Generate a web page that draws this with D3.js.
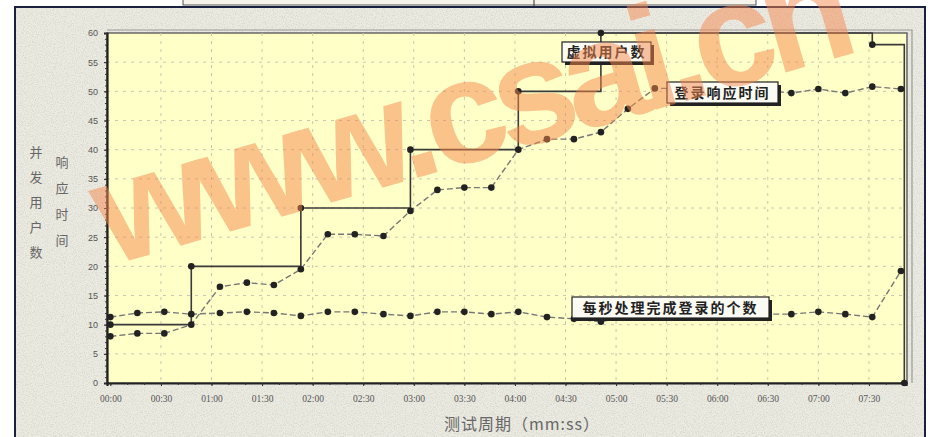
<!DOCTYPE html>
<html><head><meta charset="utf-8">
<script src="https://cdn.jsdelivr.net/npm/d3@7/dist/d3.min.js"></script>
<style>
html,body{margin:0;padding:0;background:#fff;}
svg{display:block;}
</style></head>
<body><svg id="chart" width="933" height="437"></svg>
<script>
// ---- data ----
const sampleTimes = ["00:00","00:16","00:32","00:48","01:05","01:21","01:37","01:53","02:09","02:25",
  "02:42","02:58","03:14","03:30","03:46","04:02","04:19","04:35","04:51","05:07",
  "05:23","05:39","05:55","06:12","06:28","06:44","07:00","07:16","07:32","07:49"];
const responseTime = [8, 8.5, 8.5, 10, 16.5, 17.2, 16.8, 19.5, 25.5, 25.5,
  25.2, 29.5, 33.1, 33.5, 33.5, 40, 41.8, 41.8, 43, 47,
  50.5, 50.5, 50.2, 50, 50.2, 49.7, 50.4, 49.7, 50.8, 50.4];
const perSecond = [11.3, 12, 12.2, 11.8, 12, 12.2, 12, 11.5, 12.2, 12.2,
  11.8, 11.5, 12.2, 12.2, 11.8, 12.2, 11.3, 11, 10.5, 11.5,
  11.8, 12, 11.8, 12, 11.8, 11.8, 12.2, 11.8, 11.3, 19.2];
const userTimes = ["00:00","00:48","01:53","02:58","04:02","04:51","07:32","07:51"];
const userCount = [10, 20, 30, 40, 50, 60, 58, 0];
const xTickLabels = ["00:00","00:30","01:00","01:30","02:00","02:30","03:00","03:30",
  "04:00","04:30","05:00","05:30","06:00","06:30","07:00","07:30"];
const yTicks = [0,5,10,15,20,25,30,35,40,45,50,55,60];
const yTitleUsers = "并发用户数";
const yTitleResp = "响应时间";
const xTitle = "测试周期（mm:ss）";
const labelUsers = "虚拟用户数";
const labelResp = "登录响应时间";
const labelPerSec = "每秒处理完成登录的个数";
const watermark = "www.csai.cn";

const toSec = s => { const [m, ss] = s.split(":").map(Number); return m*60+ss; };

// ---- layout ----
const svg = d3.select("#chart");
const L = 107, R = 906, T = 33, B = 383;
const x = d3.scaleLinear().domain([-2, 472]).range([L, R]);
const y = d3.scaleLinear().domain([0, 60]).range([B, T]);

const defs = svg.append("defs");
const f = defs.append("filter").attr("id","noise").attr("x",0).attr("y",0).attr("width","100%").attr("height","100%");
f.append("feTurbulence").attr("type","fractalNoise").attr("baseFrequency",0.9).attr("numOctaves",2).attr("seed",3).attr("result","n");
f.append("feColorMatrix").attr("type","matrix")
  .attr("values","0 0 0 0 0.55  0 0 0 0 0.55  0 0 0 0 0.5  0 0 0 -2.2 1.25");

// top table fragment
svg.append("rect").attr("x",183).attr("y",-2).attr("width",573).attr("height",7)
  .attr("fill","#f6f4ea").attr("stroke","#555").attr("stroke-width",1);
svg.append("line").attr("x1",534).attr("x2",534).attr("y1",0).attr("y2",8).attr("stroke","#333");

// outer frame
svg.append("rect").attr("x",15).attr("y",7).attr("width",910).attr("height",440)
  .attr("fill","#ecebe2").attr("stroke","#1a2040").attr("stroke-width",2);
svg.append("rect").attr("x",16).attr("y",8).attr("width",908).attr("height",438)
  .attr("filter","url(#noise)").attr("opacity",0.6);

// plot area
svg.append("rect").attr("x",L).attr("y",T).attr("width",R-L).attr("height",B-T)
  .attr("fill","#ffffc8");
svg.append("rect").attr("x",L).attr("y",T).attr("width",R-L+1).attr("height",B-T)
  .attr("fill","none").attr("stroke","#666").attr("stroke-width",1.5);
svg.append("path").attr("d",`M${L},${T-3}H${R+6}V${B}`)
  .attr("fill","none").attr("stroke","#999").attr("stroke-width",1.2);

// grid
const grid = svg.append("g").attr("stroke","#c9c6b2").attr("stroke-width",1).attr("stroke-dasharray","3,5");
grid.selectAll("line.h").data(yTicks.filter(v=>v>0 && v<60)).join("line")
  .attr("x1",L).attr("x2",R).attr("y1",d=>y(d)).attr("y2",d=>y(d));
grid.selectAll("line.v").data(xTickLabels.slice(1)).join("line")
  .attr("x1",d=>x(toSec(d))).attr("x2",d=>x(toSec(d))).attr("y1",T).attr("y2",B);

// axes
const yAxis = svg.append("g").attr("transform",`translate(${L},0)`)
  .call(d3.axisLeft(y).tickValues(yTicks).tickSize(3).tickPadding(6));
yAxis.select(".domain").attr("stroke","#222").attr("stroke-width",2.2);
yAxis.selectAll(".tick line").attr("stroke","#222");
yAxis.selectAll("text").attr("font-family","'Liberation Sans', Arial, sans-serif").attr("font-size",9).attr("fill","#555");
svg.append("g").attr("transform",`translate(${L},0)`)
  .call(d3.axisLeft(y).tickValues(d3.range(0,61,1)).tickSize(2).tickFormat(""))
  .call(g=>{g.select(".domain").remove(); g.selectAll("line").attr("stroke","#333");});

const xAxis = svg.append("g").attr("transform",`translate(0,${B})`)
  .call(d3.axisBottom(x).tickValues(xTickLabels.map(toSec)).tickFormat((d,i)=>xTickLabels[i]).tickSize(3).tickPadding(9));
xAxis.select(".domain").attr("stroke","#222").attr("stroke-width",2.2);
xAxis.selectAll(".tick line").attr("stroke","#222");
xAxis.selectAll("text").attr("font-family","'Liberation Serif', serif").attr("font-size",9.5).attr("fill","#555");
svg.append("g").attr("transform",`translate(0,${B})`)
  .call(d3.axisBottom(x).tickValues(d3.range(0,471,10)).tickSize(2).tickFormat(""))
  .call(g=>{g.select(".domain").remove(); g.selectAll("line").attr("stroke","#333");});

// axis titles
const cjk = "'Noto Sans CJK SC', sans-serif";
svg.append("g").selectAll("text").data(Array.from(yTitleUsers)).join("text")
  .attr("x",36).attr("y",(d,i)=>157+i*25).attr("text-anchor","middle")
  .attr("font-family",cjk).attr("font-size",13).attr("fill","#666").text(d=>d);
svg.append("g").selectAll("text").data(Array.from(yTitleResp)).join("text")
  .attr("x",62).attr("y",(d,i)=>167+i*26).attr("text-anchor","middle")
  .attr("font-family",cjk).attr("font-size",13).attr("fill","#666").text(d=>d);
svg.append("text").attr("x",522).attr("y",430).attr("text-anchor","middle")
  .attr("font-family",cjk).attr("font-size",16).attr("letter-spacing",1).attr("fill","#666").text(xTitle);

// series
const pts = (times, vals) => times.map((t,i)=>({t:toSec(t), v:vals[i]}));
const respData = pts(sampleTimes, responseTime);
const perData = pts(sampleTimes, perSecond);
const userData = pts(userTimes, userCount);
const line = d3.line().x(d=>x(d.t)).y(d=>y(d.v));

svg.append("path").datum(perData).attr("d",line).attr("fill","none")
  .attr("stroke","#777").attr("stroke-width",1.4).attr("stroke-dasharray","6,3");
svg.append("path").datum(respData).attr("d",line).attr("fill","none")
  .attr("stroke","#777").attr("stroke-width",1.4).attr("stroke-dasharray","6,3");
svg.append("path").datum(userData).attr("d",line.curve(d3.curveStepAfter)).attr("fill","none")
  .attr("stroke","#3a3a3a").attr("stroke-width",1.6);

const dots = (data) => svg.append("g").selectAll("circle").data(data).join("circle")
  .attr("cx",d=>x(d.t)).attr("cy",d=>y(d.v)).attr("r",3.3).attr("fill","#222");
dots(perData); dots(respData); dots(userData);

// callout labels
function callout(txt, x0, y0, w, h){
  const g = svg.append("g");
  g.append("rect").attr("x",x0+3).attr("y",y0+3).attr("width",w).attr("height",h).attr("fill","#222");
  g.append("rect").attr("x",x0).attr("y",y0).attr("width",w).attr("height",h)
    .attr("fill","#fbfbf4").attr("stroke","#222").attr("stroke-width",1.2);
  g.append("text").attr("x",x0+w/2).attr("y",y0+h/2+5).attr("text-anchor","middle")
    .attr("font-family",cjk).attr("font-size",14).attr("font-weight","bold").attr("letter-spacing",2)
    .attr("fill","#222").text(txt);
}
callout(labelUsers, 562, 42, 89, 20);
callout(labelResp, 667, 82, 111, 21);
callout(labelPerSec, 572, 297, 197, 21);

// watermark
svg.append("text").attr("transform","translate(110,266) rotate(-16)")
  .attr("font-family","'Liberation Sans', Arial, sans-serif").attr("font-weight","bold")
  .attr("font-size",148).attr("letter-spacing",-10)
  .attr("fill","#f5884e").attr("opacity",0.5).text(watermark);
</script></body></html>
